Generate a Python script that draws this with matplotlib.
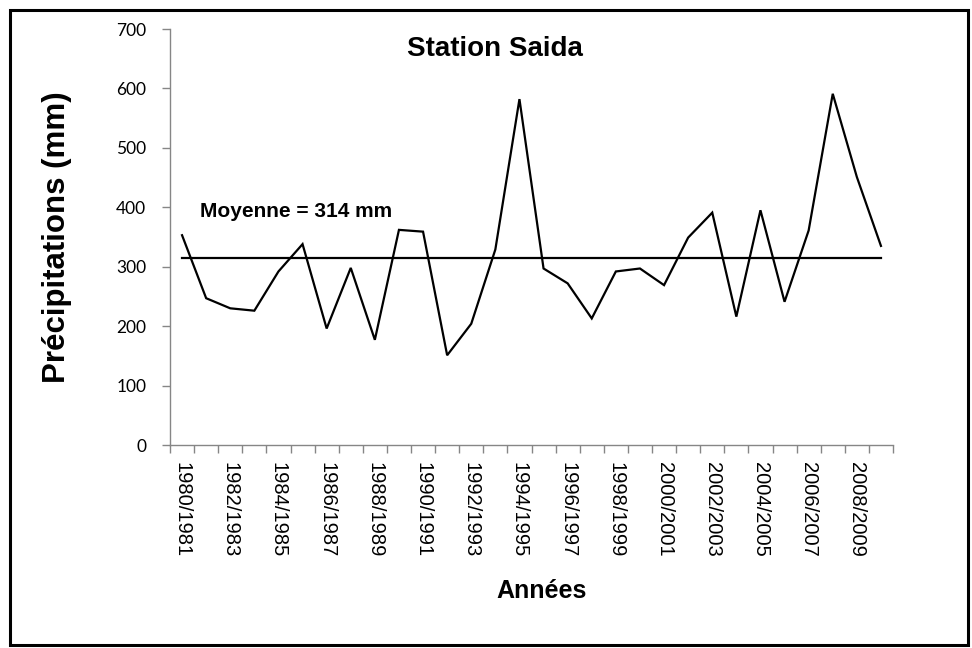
import numpy as np
import matplotlib
matplotlib.use("Agg")
import matplotlib.pyplot as plt
from matplotlib.patches import Rectangle

plt.rcParams["font.family"] = ["Liberation Sans", "DejaVu Sans"]

# annual rainfall, Saida station
years = [f"{1980 + i}/{1981 + i}" for i in range(30)]
precip = [353, 247, 230, 226, 292, 338, 196, 298, 177, 362,
          359, 151, 204, 329, 582, 297, 272, 213, 292, 297,
          269, 349, 391, 216, 395, 241, 361, 591, 451, 335]
moyenne = 314

W, H = 972, 648
fig = plt.figure(figsize=(W / 100, H / 100), dpi=100)
ax = fig.add_axes([170 / W, 1 - 445 / H, (893 - 170) / W, (445 - 29) / H])

x = np.arange(len(precip))
ax.plot(x, precip, color="black", lw=1.6, solid_joinstyle="miter")
ax.plot(x, [moyenne] * len(x), color="black", lw=1.6)

ax.set_xlim(-0.5, len(precip) - 0.5)
ax.set_ylim(0, 700)

grey = "#868686"
for s in ["top", "right"]:
    ax.spines[s].set_visible(False)
for s in ["left", "bottom"]:
    ax.spines[s].set_color(grey)
    ax.spines[s].set_linewidth(1.0)

# y axis
ax.set_yticks(np.arange(0, 701, 100))
ax.tick_params(axis="y", which="major", direction="out", length=6, width=1,
               color=grey, labelsize=12.5, pad=11)
for lab in ax.get_yticklabels():
    lab.set_family(["Lato", "DejaVu Sans"])

# x axis: marks between categories, labels every other year
ax.set_xticks(np.arange(-0.5, len(precip), 1))
ax.set_xticklabels([])
ax.tick_params(axis="x", which="major", direction="out", length=6, width=1, color=grey)
ax.set_xticks(x[::2], minor=True)
ax.set_xticklabels(years[::2], minor=True, rotation=-90, va="top", ha="center",
                   fontsize=14.5)
ax.tick_params(axis="x", which="minor", length=0, pad=12)

ax.text((495 - 170) / 723, (445 - 56) / 416, "Station Saida", transform=ax.transAxes,
        ha="center", va="baseline", fontsize=20, fontweight="bold")
ax.text((200 - 170) / 723, (445 - 217) / 416, f"Moyenne = {moyenne} mm",
        transform=ax.transAxes, ha="left", va="baseline", fontsize=15, fontweight="bold")

fig.text(57 / W, 1 - 237 / H, "Précipitations (mm)", rotation=90, ha="center",
         va="center", fontsize=22.5, fontweight="bold")
fig.text(542 / W, 1 - 591 / H, "Années", ha="center", va="center",
         fontsize=18, fontweight="bold")

fig.patches.append(Rectangle((10 / W, 3 / H), 958 / W, 635 / H, transform=fig.transFigure,
                             fill=False, edgecolor="black", lw=2.2))

fig.savefig("out.png", dpi=100)
